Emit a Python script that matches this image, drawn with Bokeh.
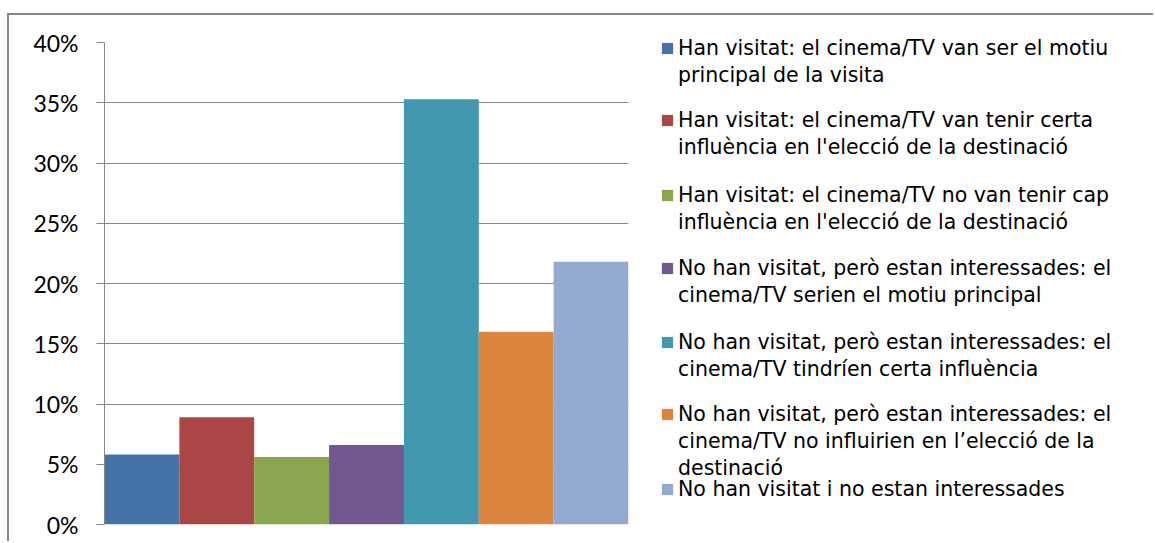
from bokeh.plotting import figure
from bokeh.layouts import row
from bokeh.models import (FactorRange, Range1d, Legend, LegendItem,
                          FixedTicker, PrintfTickFormatter)
from bokeh.embed import file_html
from bokeh.resources import INLINE

# ---- data ----
series = [
    "Han visitat: el cinema/TV van ser el motiu principal de la visita",
    "Han visitat: el cinema/TV van tenir certa influència en l'elecció de la destinació",
    "Han visitat: el cinema/TV no van tenir cap influència en l'elecció de la destinació",
    "No han visitat, però estan interessades: el cinema/TV serien el motiu principal",
    "No han visitat, però estan interessades: el cinema/TV tindríen certa influència",
    "No han visitat, però estan interessades: el cinema/TV no influirien en l’elecció de la destinació",
    "No han visitat i no estan interessades",
]
legend_lines = [
    ["Han visitat: el cinema/TV van ser el motiu", "principal de la visita"],
    ["Han visitat: el cinema/TV van tenir certa", "influència en l'elecció de la destinació"],
    ["Han visitat: el cinema/TV no van tenir cap", "influència en l'elecció de la destinació"],
    ["No han visitat, però estan interessades: el", "cinema/TV serien el motiu principal"],
    ["No han visitat, però estan interessades: el", "cinema/TV tindríen certa influència"],
    ["No han visitat, però estan interessades: el", "cinema/TV no influirien en l’elecció de la", "destinació"],
    ["No han visitat i no estan interessades"],
]
values = [5.8, 8.9, 5.6, 6.6, 35.3, 16.0, 21.8]  # percent
colors = ["#4572A7", "#AA4643", "#89A54E", "#71588F", "#4198AF", "#DB843D", "#93A9CF"]
y_ticks = [0, 5, 10, 15, 20, 25, 30, 35, 40]

H = 526
TOP = 15            # page y of the canvases' top edge
LINE = 27           # legend line pitch
entry_centers = [48, 120, 195, 268, 342, 414, 489]   # page y of each entry's first line (layout)

# ---- chart ----
p = figure(width=639, height=H,
           x_range=FactorRange(factors=series, range_padding=0),
           y_range=Range1d(0, 40),
           output_backend="svg", toolbar_location=None,
           min_border_left=95, min_border_top=27, min_border_bottom=H - 27 - 482,
           min_border_right=20)
p.frame_align = False
p.outline_line_color = None
p.background_fill_color = "white"
p.border_fill_color = "white"

for s, v, c in zip(series, values, colors):
    p.vbar(x=[s], top=[v], width=1.0, bottom=0, fill_color=c, line_color=None)

p.xaxis.visible = False
p.xgrid.visible = False
p.ygrid.grid_line_color = "#868686"
p.ygrid.grid_line_width = 1

ya = p.yaxis[0]
ya.ticker = FixedTicker(ticks=y_ticks)
ya.formatter = PrintfTickFormatter(format="%d%%")
ya.axis_line_color = "#868686"
ya.major_tick_line_color = "#868686"
ya.major_tick_in = 0
ya.major_tick_out = 8
ya.minor_tick_line_color = None
ya.major_label_standoff = 18
ya.major_label_text_font = "Lato"
ya.major_label_text_font_size = "23px"
ya.major_label_text_color = "black"

# ---- legend panel ----
pl = figure(width=505, height=H, x_range=Range1d(0, 1), y_range=Range1d(0, 1),
            title=None, x_axis_location=None, y_axis_location=None,
            output_backend="svg", toolbar_location=None,
            min_border=0, min_border_left=0, min_border_right=0,
            min_border_top=0, min_border_bottom=0)
pl.frame_align = False
pl.grid.visible = False
pl.outline_line_color = None
pl.background_fill_color = "white"
pl.border_fill_color = "white"

# key swatches (placed outside the visible range; only their legend icons show)
key_renderers = [pl.vbar(x=[10], top=[-1], bottom=[-2], width=0.1,
                         fill_color=c, line_color=None) for c in colors]
blank = pl.vbar(x=[], top=[], width=0.1, fill_color=None, line_color=None)

for i, lines in enumerate(legend_lines):
    items = [LegendItem(label=ln, renderers=[key_renderers[i] if j == 0 else blank])
             for j, ln in enumerate(lines)]
    top = entry_centers[i] - TOP - LINE / 2
    bottom = top + LINE * len(lines)
    lg = Legend(items=items, location=(12, H - bottom), orientation="vertical")
    lg.border_line_color = None
    lg.background_fill_alpha = 0
    lg.padding = 0
    lg.margin = 0
    lg.spacing = 0
    lg.label_height = LINE
    lg.glyph_width = 14
    lg.glyph_height = 14
    lg.label_standoff = 4
    lg.label_text_font = "DejaVu Sans"
    lg.label_text_font_size = "20.5px"
    lg.label_text_color = "black"
    lg.click_policy = "none"
    pl.add_layout(lg, "center")

layout = row(p, pl, spacing=0)
layout.margin = (13, 0, 0, 7)
layout.styles = {"border-top": "2px solid #868686", "border-left": "2px solid #868686"}

open("out.html", "w").write(file_html(layout, INLINE))
